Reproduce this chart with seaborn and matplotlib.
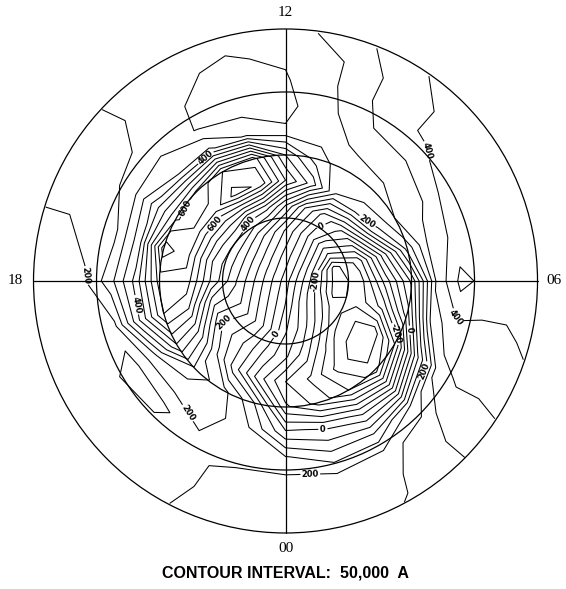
import numpy as np
import matplotlib
matplotlib.use("Agg")
import matplotlib.pyplot as plt
from matplotlib.patches import Circle
import seaborn as sns

sns.set_theme(style="white")
plt.rcParams["font.family"] = ["DejaVu Sans"]
plt.rcParams["contour.negative_linestyle"] = "solid"
plt.rcParams["text.color"] = "black"

# Equivalent current function on a polar grid (magnetic local time x colatitude), in kA
mlt_hours = list(range(24))
colatitudes = [4, 8, 12, 16, 20, 24, 28, 32, 36, 40]
pole_value = 25

ring_04 = [-4, -52, -95, -128, -150, -159, -155, -133, -100, -51, -1, 39, 78, 112, 140, 161, 170, 172, 166, 153, 132, 104, 69, 34]
ring_08 = [-45, -105, -173, -240, -300, -370, -380, -370, -220, -124, -20, 67, 143, 213, 267, 306, 323, 324, 307, 283, 240, 185, 119, 40]
ring_12 = [-90, -175, -285, -380, -390, -330, -320, -280, -130, -30, 30, 150, 300, 420, 440, 480, 470, 450, 450, 330, 215, 150, 80, -20]
ring_16 = [-200, -260, -360, -430, -440, -230, -122, -30, 170, 230, 250, 430, 550, 740, 770, 670, 665, 660, 640, 560, 400, 220, 70, -80]
ring_20 = [-140, -220, -300, -380, -250, -20, 60, 220, 300, 280, 270, 320, 450, 680, 700, 610, 590, 730, 620, 600, 450, 280, 220, 110]
ring_24 = [10, -10, -70, -100, 80, 320, 360, 380, 330, 320, 310, 280, 255, 290, 360, 350, 420, 380, 410, 400, 230, 220, 230, 160]
ring_28 = [155, 100, 100, 200, 330, 390, 468, 410, 400, 360, 350, 290, 235, 235, 245, 300, 280, 245, 275, 190, 120, 135, 195, 180]
ring_32 = [220, 210, 230, 280, 360, 390, 430, 430, 420, 410, 370, 300, 245, 235, 250, 260, 230, 215, 195, 180, 170, 175, 190, 210]
ring_36 = [230, 230, 245, 300, 355, 390, 430, 430, 420, 410, 370, 300, 258, 245, 255, 250, 230, 195, 185, 180, 180, 185, 190, 215]
ring_40 = [225, 235, 252, 298, 365, 410, 430, 430, 425, 420, 390, 320, 280, 265, 260, 253, 230, 195, 185, 180, 185, 190, 198, 210]
rings = [ring_04, ring_08, ring_12, ring_16, ring_20, ring_24, ring_28, ring_32, ring_36, ring_40]

contour_interval = 50
dial_labels = ["12", "18", "06", "00"]

# label anchors (colatitude, MLT)
label_colat = [23.6, 19.7, 16.0, 11.4, 11.0, 16.0, 29.7, 30.7, 22.0, 11.6, 8.8, 4.7, 19.7, 21.7, 26.0, 26.5, 25.5, 24.1, 30.7]
label_mlt = [14.2, 15.6, 15.4, 14.3, 10.1, 8.4, 8.9, 17.9, 18.6, 20.1, 23.55, 6.0, 4.35, 4.6, 3.8, 5.1, 21.6, 0.95, 0.49]
labelled_levels = [-200, 0, 200, 400, 600]


def mlt_to_angle(h):
    # 06 MLT to the right, 12 at top, 18 left, 00 bottom
    return np.deg2rad((np.asarray(h, dtype=float) - 6.0) * 15.0)


# structured polar grid, closed in MLT
hours_closed = mlt_hours + [mlt_hours[0] + 24]
ang = mlt_to_angle(hours_closed)
colat_all = [0] + colatitudes
values = [[pole_value] * len(hours_closed)] + [r + [r[0]] for r in rings]
C, A = np.meshgrid(np.array(colat_all, float), ang, indexing="ij")
X = C * np.cos(A)
Y = C * np.sin(A)
Z = np.array(values, dtype=float)

fig = plt.figure(figsize=(5.66, 5.89), dpi=100)
ax = fig.add_axes([0, 0, 1, 1])
ax.set_xlim(-45.32, 44.52)
ax.set_ylim(-48.89, 44.60)
ax.set_aspect("equal")
ax.axis("off")

all_levels = np.arange(-400, 801, contour_interval)
plain_levels = [lv for lv in all_levels if lv not in labelled_levels]
ax.contour(X, Y, Z, levels=plain_levels, colors="black", linewidths=0.75)
cs_lab = ax.contour(X, Y, Z, levels=labelled_levels, colors="black", linewidths=0.75)

la = mlt_to_angle(label_mlt)
positions = [(c * np.cos(a), c * np.sin(a)) for c, a in zip(label_colat, la)]
texts = ax.clabel(cs_lab, manual=positions, inline=True, fontsize=6, fmt="%d", inline_spacing=2)
for t in texts:
    t.set_fontweight("bold")

# dial: colatitude circles every 10 degrees and the noon-midnight / dawn-dusk lines
for r in (10, 20, 30, 40):
    ax.add_patch(Circle((0, 0), r, fill=False, lw=0.9, edgecolor="black"))
ax.plot([-40, 40], [0, 0], color="black", lw=0.9)
ax.plot([0, 0], [-40, 40], color="black", lw=0.9)

serif = ["Liberation Serif", "DejaVu Serif"]
ax.text(0, 42.6, dial_labels[0], ha="center", va="center", fontsize=11, family=serif)
ax.text(-42.9, 0, dial_labels[1], ha="center", va="center", fontsize=11, family=serif)
ax.text(42.6, 0, dial_labels[2], ha="center", va="center", fontsize=11, family=serif)
ax.text(0, -42.4, dial_labels[3], ha="center", va="center", fontsize=11, family=serif)
ax.text(0, -46.3, "CONTOUR INTERVAL:  50,000  A", ha="center", va="center",
        fontsize=11.5, fontweight="bold", family=["Liberation Sans", "DejaVu Sans"])

fig.savefig("out.png", dpi=100)
